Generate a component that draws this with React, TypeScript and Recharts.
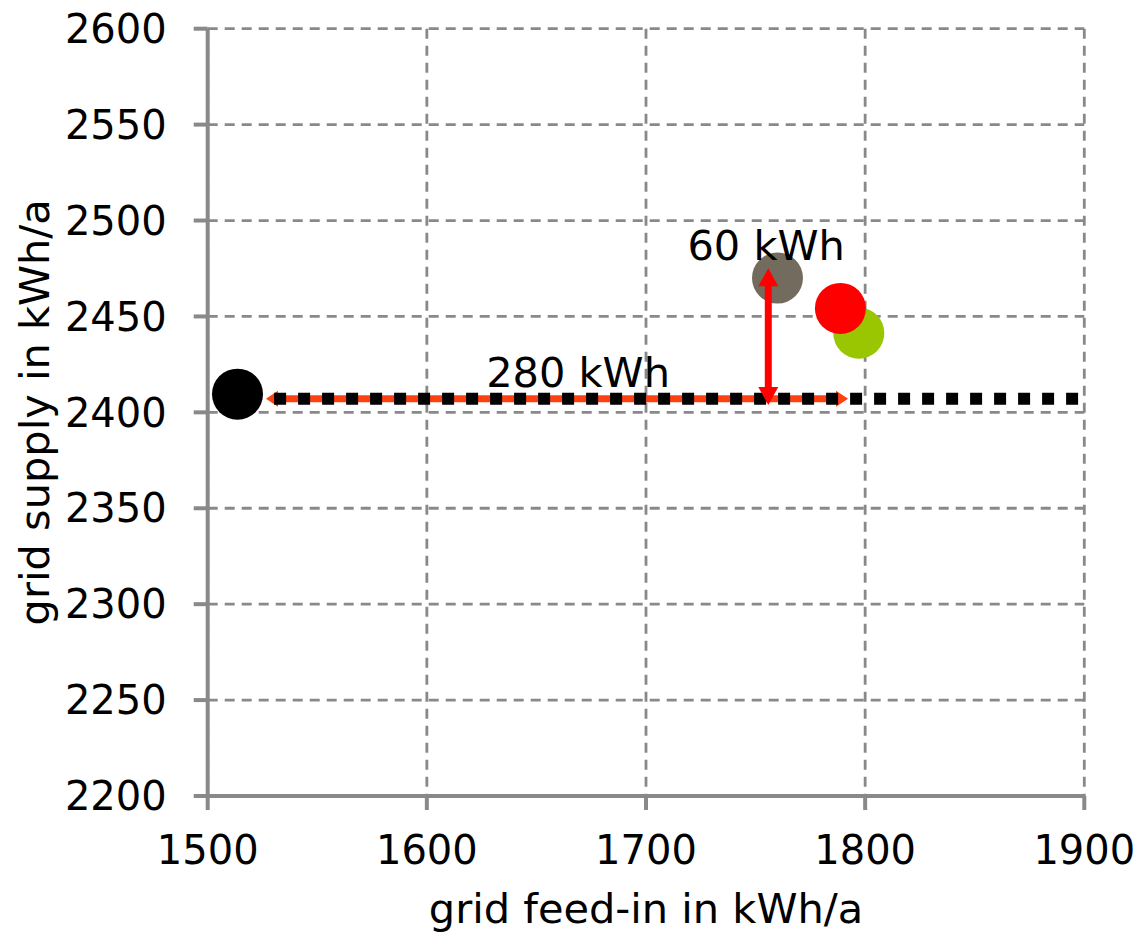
import React from 'react';
import {
  ScatterChart,
  Scatter,
  XAxis,
  YAxis,
  CartesianGrid,
  ReferenceLine,
  ReferenceDot,
} from 'recharts';

// ---------- data ----------
const xTicks = [1500, 1600, 1700, 1800, 1900];
const yTicks = [2200, 2250, 2300, 2350, 2400, 2450, 2500, 2550, 2600];
const xDomain = [1500, 1900];
const yDomain = [2200, 2600];

const baseCase = [{ x: 1513.6, y: 2409.5 }];
const variantGrey = [{ x: 1760, y: 2470 }];
const variantRed = [{ x: 1788.7, y: 2454.2 }];
const variantGreen = [{ x: 1797.1, y: 2441.3 }];

const referenceLevel = 2407.1;
const referenceFrom = 1530.3;
const referenceTo = 1900;

const feedInArrow = [
  { x: 1526.6, y: 2407.1 },
  { x: 1792.2, y: 2407.1 },
];
const supplyArrow = [
  { x: 1755.8, y: 2403.8 },
  { x: 1755.8, y: 2475.1 },
];

const annotations = [
  { text: '60 kWh', x: 1754.8, y: 2479.4 },
  { text: '280 kWh', x: 1669, y: 2413.3 },
];

const xTitle = 'grid feed-in in kWh/a';
const yTitle = 'grid supply in kWh/a';

// ---------- styles ----------
const FONT = "'DejaVu Sans', Verdana, sans-serif";
const AXIS = '#898989';
const W = 1140;
const H = 932;
const PLOT_LEFT = 207.7;
const PLOT_RIGHT = 1084.3;
const PLOT_TOP = 28.7;
const PLOT_BOTTOM = 796;
const TITLE_SIZE = 41.5;

const circle = (color: string) => (p: any) =>
  <circle cx={p.cx} cy={p.cy} r={25.5} fill={color} />;

const arrowShape =
  (color: string, shaft: number, headLen: number, headWidth: number) =>
  (p: any) => {
    const x1 = Number(p.x1);
    const y1 = Number(p.y1);
    const x2 = Number(p.x2);
    const y2 = Number(p.y2);
    const dx = x2 - x1;
    const dy = y2 - y1;
    const len = Math.hypot(dx, dy) || 1;
    const ux = dx / len;
    const uy = dy / len;
    const nx = -uy;
    const ny = ux;
    const hw = headWidth / 2;
    const b1x = x1 + ux * headLen;
    const b1y = y1 + uy * headLen;
    const b2x = x2 - ux * headLen;
    const b2y = y2 - uy * headLen;
    const head1 = `${x1},${y1} ${b1x + nx * hw},${b1y + ny * hw} ${b1x - nx * hw},${b1y - ny * hw}`;
    const head2 = `${x2},${y2} ${b2x + nx * hw},${b2y + ny * hw} ${b2x - nx * hw},${b2y - ny * hw}`;
    return (
      <g>
        <line
          x1={b1x - ux * 1}
          y1={b1y - uy * 1}
          x2={b2x + ux * 1}
          y2={b2y + uy * 1}
          stroke={color}
          strokeWidth={shaft}
        />
        <polygon points={head1} fill={color} />
        <polygon points={head2} fill={color} />
      </g>
    );
  };

const textShape = (text: string) => (p: any) =>
  (
    <text
      x={p.cx}
      y={p.cy}
      textAnchor="middle"
      fontSize={TITLE_SIZE}
      fontFamily={FONT}
      fill="#000"
    >
      {text}
    </text>
  );

export default function App() {
  return (
    <div
      style={{
        position: 'absolute',
        left: 0,
        top: 0,
        width: W,
        height: H,
        background: '#fff',
      }}
    >
      <ScatterChart
        width={W}
        height={H}
        margin={{ top: PLOT_TOP, right: W - PLOT_RIGHT, bottom: 0, left: 0 }}
      >
        <CartesianGrid
          stroke={AXIS}
          strokeWidth={2.8}
          strokeDasharray="10 7"
        />
        <XAxis
          type="number"
          dataKey="x"
          domain={xDomain}
          ticks={xTicks}
          allowDataOverflow
          height={H - PLOT_BOTTOM}
          tickSize={14}
          tickMargin={26}
          axisLine={{ stroke: AXIS, strokeWidth: 4 }}
          tickLine={{ stroke: AXIS, strokeWidth: 4 }}
          tick={{ fontSize: 40, fill: '#000', fontFamily: FONT }}
          label={{
            content: () => (
              <text
                x={(PLOT_LEFT + PLOT_RIGHT) / 2}
                y={923}
                textAnchor="middle"
                fontSize={TITLE_SIZE}
                fontFamily={FONT}
                fill="#000"
              >
                {xTitle}
              </text>
            ),
          }}
        />
        <YAxis
          type="number"
          dataKey="y"
          domain={yDomain}
          ticks={yTicks}
          allowDataOverflow
          width={PLOT_LEFT}
          tickSize={14}
          tickMargin={27}
          axisLine={{ stroke: AXIS, strokeWidth: 4 }}
          tickLine={{ stroke: AXIS, strokeWidth: 4 }}
          tick={{ fontSize: 40, fill: '#000', fontFamily: FONT }}
          label={{
            content: () => {
              const cx = 49;
              const cy = (PLOT_TOP + PLOT_BOTTOM) / 2;
              return (
                <text
                  x={cx}
                  y={cy}
                  textAnchor="middle"
                  fontSize={TITLE_SIZE}
                  fontFamily={FONT}
                  fill="#000"
                  transform={`rotate(-90 ${cx} ${cy})`}
                >
                  {yTitle}
                </text>
              );
            },
          }}
        />
        <ReferenceLine
          segment={feedInArrow}
          ifOverflow="visible"
          zIndex={610}
          shape={arrowShape('#ff4010', 7, 12, 16)}
        />
        <ReferenceLine
          segment={[
            { x: referenceFrom, y: referenceLevel },
            { x: referenceTo, y: referenceLevel },
          ]}
          ifOverflow="visible"
          zIndex={620}
          stroke="#000"
          strokeWidth={12}
          strokeDasharray="12 12"
        />
        <Scatter data={baseCase} isAnimationActive={false} shape={circle('#000000')} />
        <Scatter data={variantGrey} isAnimationActive={false} shape={circle('#736b5e')} />
        <Scatter data={variantGreen} isAnimationActive={false} shape={circle('#99c600')} />
        <Scatter data={variantRed} isAnimationActive={false} shape={circle('#ff0000')} />
        <ReferenceLine
          segment={supplyArrow}
          ifOverflow="visible"
          zIndex={700}
          shape={arrowShape('#ff0000', 7, 18, 20)}
        />
        {annotations.map((a) => (
          <ReferenceDot
            key={a.text}
            x={a.x}
            y={a.y}
            r={0}
            ifOverflow="visible"
            zIndex={800}
            shape={textShape(a.text)}
          />
        ))}
      </ScatterChart>
    </div>
  );
}
